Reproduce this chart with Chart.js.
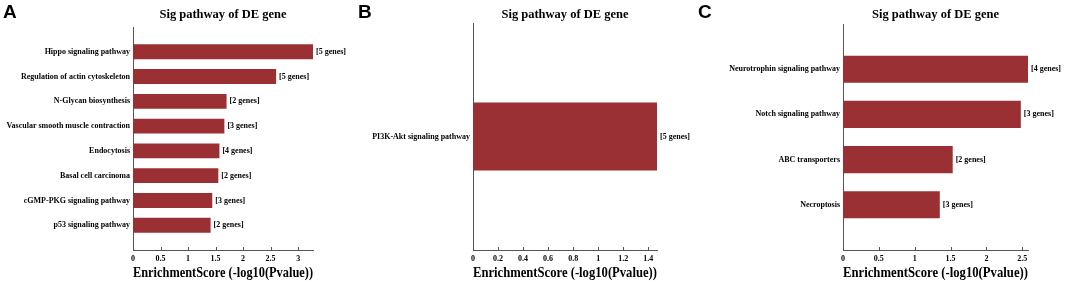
<!DOCTYPE html>
<html>
<head>
<meta charset="utf-8">
<script src="https://cdn.jsdelivr.net/npm/chart.js@4.4.1/dist/chart.umd.min.js"></script>
<style>
  body { margin: 0; background: #fff; width: 1065px; height: 283px; position: relative; overflow: hidden; }
  canvas { position: absolute; top: 0; }
  .letter { position: absolute; top: 1px; font: bold 19px "Liberation Sans", Arial, sans-serif; color: #000; }
</style>
</head>
<body>
<canvas id="chartA" width="355" height="283" style="left:0px"></canvas>
<canvas id="chartB" width="340" height="283" style="left:355px"></canvas>
<canvas id="chartC" width="355" height="283" style="left:710px"></canvas>
<div class="letter" style="left:3px">A</div>
<div class="letter" style="left:358px">B</div>
<div class="letter" style="left:698px">C</div>
<script>
// DATA
const catsA = ["Hippo signaling pathway", "Regulation of actin cytoskeleton", "N-Glycan biosynthesis",
  "Vascular smooth muscle contraction", "Endocytosis", "Basal cell carcinoma",
  "cGMP-PKG signaling pathway", "p53 signaling pathway"];
const valsA = [3.27, 2.6, 1.7, 1.66, 1.57, 1.55, 1.44, 1.41];
const genesA = [5, 5, 2, 3, 4, 2, 3, 2];

const catsB = ["PI3K-Akt signaling pathway"];
const valsB = [1.47];
const genesB = [5];

const catsC = ["Neurotrophin signaling pathway", "Notch signaling pathway", "ABC transporters", "Necroptosis"];
const valsC = [2.58, 2.48, 1.53, 1.35];
const genesC = [4, 3, 2, 3];

const titleText = "Sig pathway of DE gene";
const xTitleText = "EnrichmentScore (-log10(Pvalue))";

const serif = "'Liberation Serif', 'Times New Roman', serif";
const barColor = "#9b3034";
const axisColor = "#555555";

// draws "[n genes]" right of each bar
const geneLabels = {
  id: "geneLabels",
  afterDatasetsDraw(chart, args, opts) {
    const ctx = chart.ctx;
    const meta = chart.getDatasetMeta(0);
    ctx.save();
    ctx.font = "bold 8px " + serif;
    ctx.fillStyle = "#000";
    ctx.textBaseline = "middle";
    ctx.textAlign = "left";
    let k = 0;
    meta.data.forEach((bar, i) => {
      const v = chart.data.datasets[0].data[i];
      if (v === null) return;
      ctx.fillText("[" + opts.genes[k] + " genes]", bar.x + 3, bar.y);
      k++;
    });
    ctx.restore();
  }
};

// title centred over the plot area, plus small inward tick marks on the x axis
const panelDecor = {
  id: "panelDecor",
  afterDraw(chart) {
    const ctx = chart.ctx;
    const area = chart.chartArea;
    ctx.save();
    ctx.font = "bold 12.5px " + serif;
    ctx.fillStyle = "#000";
    ctx.textAlign = "center";
    ctx.textBaseline = "middle";
    ctx.fillText(titleText, (area.left + area.right) / 2, 15);

    const sc = chart.scales.x;
    ctx.strokeStyle = axisColor;
    ctx.lineWidth = 1;
    sc.ticks.forEach((t, i) => {
      const x = Math.round(sc.getPixelForTick(i)) + 0.5;
      ctx.beginPath();
      ctx.moveTo(x, sc.top);
      ctx.lineTo(x, sc.top - 3);
      ctx.stroke();
    });
    ctx.restore();
  }
};

function makeChart(id, cats, vals, genes, step, yWidth, rightPad, topPad) {
  new Chart(document.getElementById(id), {
    type: "bar",
    data: {
      labels: ["", ...cats, ""],
      datasets: [{
        data: [null, ...vals, null],
        backgroundColor: barColor,
        categoryPercentage: 0.6,
        barPercentage: 1.0
      }]
    },
    options: {
      indexAxis: "y",
      responsive: false,
      animation: false,
      layout: { padding: { left: 0, right: rightPad, top: topPad, bottom: 0 } },
      plugins: {
        legend: { display: false },
        tooltip: { enabled: false },
        title: { display: false },
        geneLabels: { genes: genes }
      },
      scales: {
        x: {
          type: "linear",
          min: 0,
          max: Math.max(...vals),
          bounds: "data",
          grid: { display: false, drawTicks: false },
          border: { display: true, color: axisColor, width: 1 },
          ticks: {
            stepSize: step,
            includeBounds: false,
            padding: 4,
            color: "#000",
            font: { family: serif, size: 8, weight: "bold" },
            callback: (v) => String(Number(v.toFixed(2)))
          },
          title: {
            display: true,
            text: xTitleText,
            color: "#000",
            font: { family: serif, size: 14, weight: "bold", lineHeight: 1.2 },
            padding: { top: 0, bottom: 1 }
          },
          afterFit(scale) { scale.height = 33; }
        },
        y: {
          offset: false,
          grid: { display: false, drawTicks: false },
          border: { display: true, color: axisColor, width: 1 },
          ticks: {
            padding: 3,
            autoSkip: false,
            color: "#000",
            font: { family: serif, size: 8, weight: "bold" }
          },
          afterFit(scale) { scale.width = yWidth; }
        }
      }
    },
    plugins: [geneLabels, panelDecor]
  });
}

makeChart("chartA", catsA, valsA, genesA, 0.5, 133, 42, 27);
makeChart("chartB", catsB, valsB, genesB, 0.2, 118, 38, 23);
makeChart("chartC", catsC, valsC, genesC, 0.5, 133, 37, 24);
</script>
</body>
</html>
